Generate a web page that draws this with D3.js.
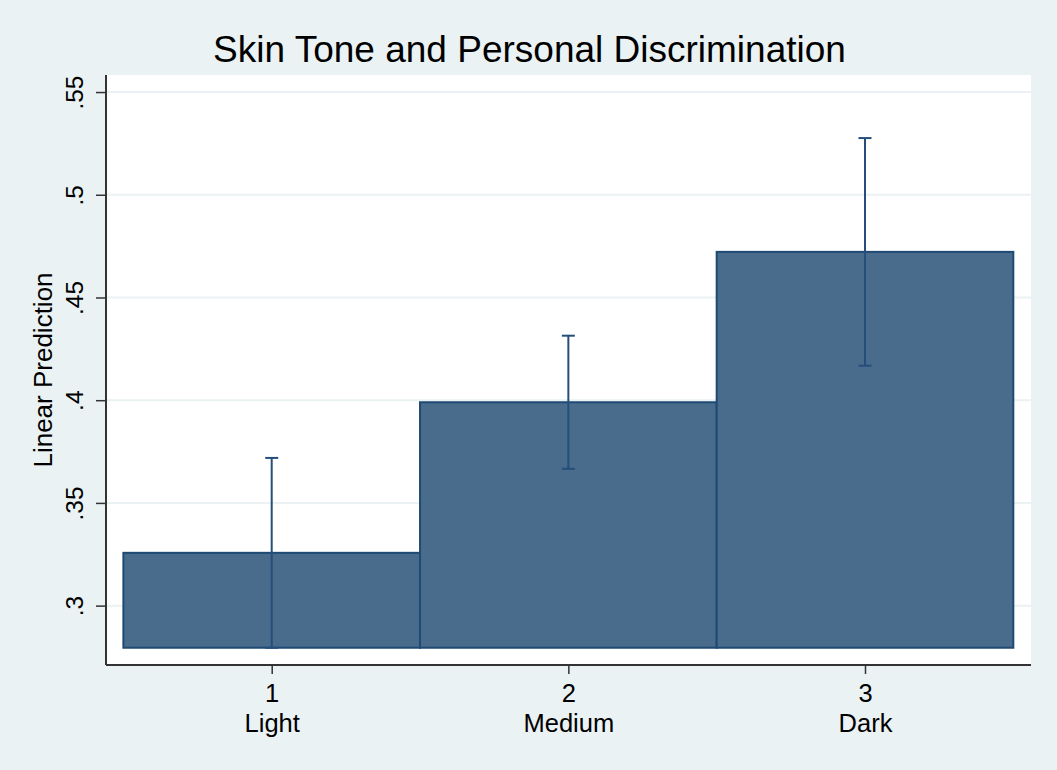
<!DOCTYPE html>
<html>
<head>
<meta charset="utf-8">
<script src="https://cdn.jsdelivr.net/npm/d3@7"></script>
<style>
  html, body { margin: 0; padding: 0; background: #eaf2f3; }
  svg { display: block; }
  text { font-family: Helvetica, Arial, "Liberation Sans", sans-serif; fill: #000; }
</style>
</head>
<body>
<svg id="chart" width="1057" height="770"></svg>
<script>
// Predicted share reporting personal discrimination by skin tone (margins with 95% CI)
const categories = [1, 2, 3];
const categoryNames = ["Light", "Medium", "Dark"];
const prediction = [0.3257, 0.3990, 0.4722];
const ciLower = [0.2795, 0.3666, 0.4168];
const ciUpper = [0.3719, 0.4314, 0.5276];
const yTicks = [0.3, 0.35, 0.4, 0.45, 0.5, 0.55];
const yTickLabels = [".3", ".35", ".4", ".45", ".5", ".55"];

const W = 1057, H = 770;
const plot = { left: 106, right: 1031, top: 75, bottom: 665 };

const svg = d3.select("#chart");

// Outer graph region
svg.append("rect").attr("width", W).attr("height", H).attr("fill", "#eaf2f3");

const x = d3.scaleLinear().domain([0.4414, 3.5596]).range([plot.left, plot.right]);
const y = d3.scaleLinear().domain([0.2711, 0.5583]).range([plot.bottom, plot.top]);

// Bars rise from the lowest value shown
const base = d3.min(ciLower);

// Plot region
svg.append("rect")
  .attr("x", plot.left).attr("y", plot.top)
  .attr("width", plot.right - plot.left).attr("height", plot.bottom - plot.top)
  .attr("fill", "#ffffff");

// Horizontal grid lines
svg.append("g").selectAll("line").data(yTicks).join("line")
  .attr("x1", plot.left).attr("x2", plot.right)
  .attr("y1", d => y(d)).attr("y2", d => y(d))
  .attr("stroke", "#eaf2f3").attr("stroke-width", 2);

// Bars
const rows = categories.map((c, i) => ({
  c, name: categoryNames[i], p: prediction[i], lo: ciLower[i], hi: ciUpper[i]
}));

svg.append("g").selectAll("rect").data(rows).join("rect")
  .attr("x", d => x(d.c - 0.5))
  .attr("width", d => x(d.c + 0.5) - x(d.c - 0.5))
  .attr("y", d => y(d.p))
  .attr("height", d => y(base) - y(d.p))
  .attr("fill", "#496b8c")
  .attr("stroke", "#1f4a73")
  .attr("stroke-width", 2);

// Confidence intervals
const ci = svg.append("g").attr("stroke", "#254f7a").attr("stroke-width", 2).attr("fill", "none");
ci.selectAll("line.v").data(rows).join("line").attr("class", "v")
  .attr("x1", d => x(d.c)).attr("x2", d => x(d.c))
  .attr("y1", d => y(d.lo)).attr("y2", d => y(d.hi));
ci.selectAll("line.t").data(rows).join("line").attr("class", "t")
  .attr("x1", d => x(d.c) - 6.5).attr("x2", d => x(d.c) + 6.5)
  .attr("y1", d => y(d.hi)).attr("y2", d => y(d.hi));
ci.selectAll("line.b").data(rows).join("line").attr("class", "b")
  .attr("x1", d => x(d.c) - 6.5).attr("x2", d => x(d.c) + 6.5)
  .attr("y1", d => y(d.lo)).attr("y2", d => y(d.lo));

// Y axis
const yAxis = d3.axisLeft(y).tickValues(yTicks)
  .tickFormat((d, i) => yTickLabels[i]).tickSize(10).tickPadding(13);
const gy = svg.append("g").attr("transform", `translate(${plot.left},0)`).call(yAxis);
gy.select(".domain").attr("d", `M0,${plot.top}V${plot.bottom}`).attr("stroke", "#333").attr("stroke-width", 2);
gy.selectAll(".tick line").attr("stroke", "#333").attr("stroke-width", 1.5);
gy.selectAll(".tick text")
  .attr("x", null).attr("dy", null)
  .attr("transform", "translate(-23,0) rotate(-90)")
  .attr("text-anchor", "middle")
  .style("font-size", "24.5px")
  .style("font-family", "Helvetica, Arial, 'Liberation Sans', sans-serif")
  .attr("fill", "#000");

// X axis
const xAxis = d3.axisBottom(x).tickValues(categories).tickFormat(d3.format("d")).tickSize(9).tickPadding(9);
const gx = svg.append("g").attr("transform", `translate(0,${plot.bottom})`).call(xAxis);
gx.select(".domain").attr("d", `M${plot.left},0H${plot.right}`).attr("stroke", "#333").attr("stroke-width", 2);
gx.selectAll(".tick line").attr("stroke", "#333").attr("stroke-width", 1.5);
gx.selectAll(".tick text").remove();
const xl = gx.selectAll(".tick");
xl.append("text").attr("y", 37).attr("text-anchor", "middle")
  .style("font-size", "25.5px").attr("fill", "#000")
  .text(d => d);
xl.append("text").attr("y", 66.5).attr("text-anchor", "middle")
  .style("font-size", "25.5px").attr("fill", "#000")
  .text((d, i) => categoryNames[i]);

// Axis title
svg.append("text")
  .attr("transform", `translate(52,${(plot.top + plot.bottom) / 2}) rotate(-90)`)
  .attr("text-anchor", "middle")
  .style("font-size", "26px")
  .text("Linear Prediction");

// Title, centred on the whole graph
svg.append("text")
  .attr("x", W / 2 + 1).attr("y", 62)
  .attr("text-anchor", "middle")
  .style("font-size", "37px")
  .text("Skin Tone and Personal Discrimination");
</script>
</body>
</html>
